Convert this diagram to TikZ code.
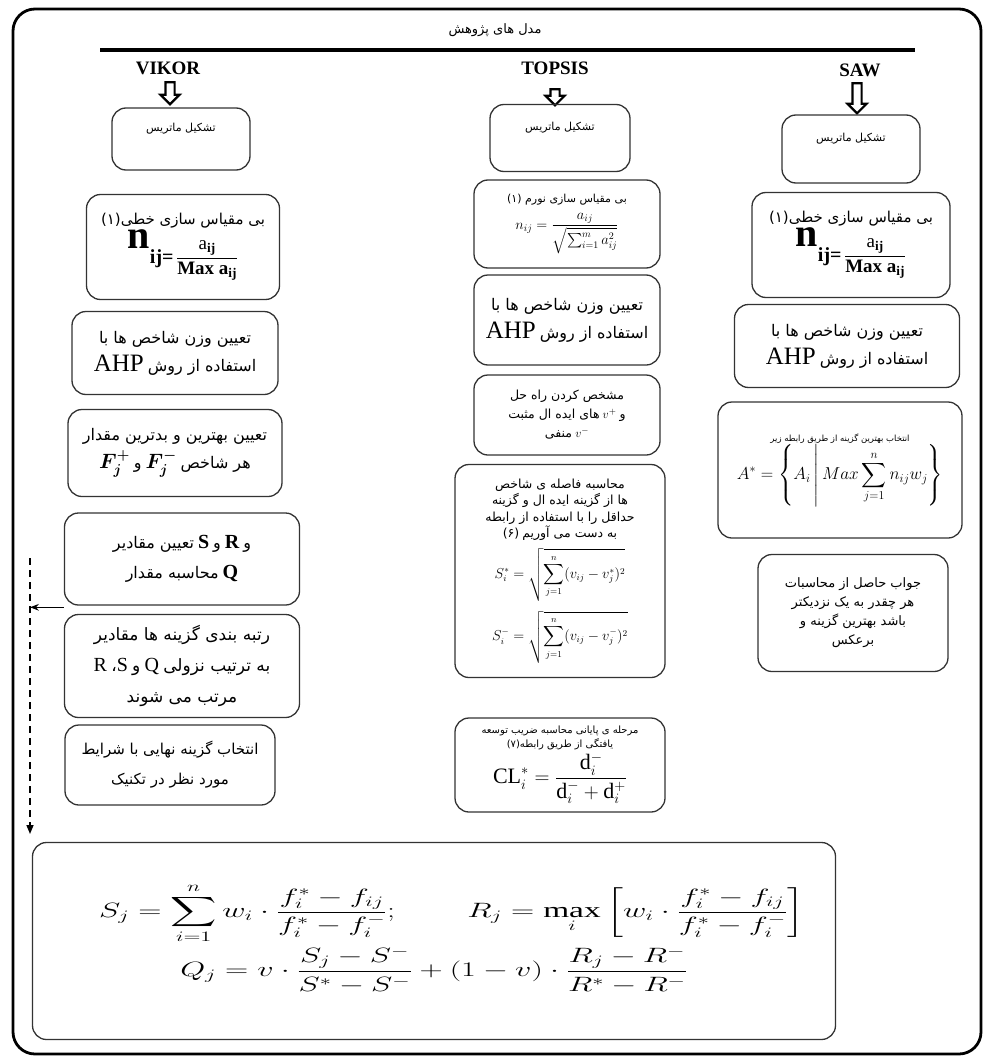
\documentclass[tikz,border=0pt]{standalone}
\usepackage{amsmath}
\usepackage{graphicx}
\usepackage{fontspec}
\setmainfont{Liberation Serif}
\newfontfamily\farsi[Script=Arabic]{DejaVu Sans}
\TeXXeTstate=1
\newcommand{\fa}[1]{{\farsi\beginR #1\endR}}
\newcommand{\Ahp}{{\fontsize{25}{25}\selectfont AHP}}
\newcommand{\Lat}[1]{{\fontsize{20}{20}\selectfont #1}}
\newcommand{\nlin}{{\fontsize{40}{34}\selectfont\bfseries n}\raisebox{-15pt}{\fontsize{20}{20}\selectfont\bfseries ij=}\,\raisebox{-14pt}{\fontsize{19}{19}\selectfont$\dfrac{\mathrm{a}_{\mathbf{ij}}}{\textbf{Max a}_{\mathbf{ij}}}$}}
\usepackage{tikz}
\usetikzlibrary{
	arrows.meta,
	positioning,
	calc,
	shapes.arrows
}

\tikzset{
	stage/.style={draw=black!80,line width=1.3pt,rounded corners=14pt,align=center,inner sep=2pt,font=\fontsize{16}{25}\selectfont},
	method/.style={font=\fontsize{19}{19}\selectfont\bfseries},
	hollow/.style={single arrow,draw,fill=white,line width=2.2pt,shape border rotate=270,inner sep=3.5pt,single arrow head extend=5pt},
	matrixbox/.style={stage,font=\fontsize{11}{14}\selectfont,text depth=24pt}
}

\begin{document}
\begin{tikzpicture}[>=Stealth,x=1pt,y=-1pt]
		\useasboundingbox (0,0) rectangle (988,1062);
		
		% frame and title
		\draw[line width=2.8pt,rounded corners=22pt] (13,9) rectangle (981,1054);
		\node[font=\fontsize{13}{13}\selectfont] (title) at (495,30) {\fa{مدل های پژوهش}};
		\coordinate (rl) at (100,50);
		\coordinate (rr) at (915,50);
		\draw[line width=3.5pt] (rl)--(rr);
		
		% methods
		\node[method] (vikor) at (168,68) {VIKOR};
		\node[method] (topsis) at (555,68) {TOPSIS};
		\node[method] (saw) at (860,70) {SAW};
		\node[hollow,minimum height=22pt] (va) at (170,91) {};
		\node[hollow,minimum height=16pt] (ta) at (555,95) {};
		\node[hollow,minimum height=30pt] (sa) at (857,96) {};
		
		% VIKOR
		\node[matrixbox,minimum width=138pt,minimum height=62pt] (v1) at (181,139) {\fa{تشکیل ماتریس}};
		\node[stage,minimum width=193pt,minimum height=105pt,font=\fontsize{15}{20}\selectfont] (v2) at (183,247) {\fa{بی مقیاس سازی خطی(۱)}\\ \nlin};
		\node[stage,minimum width=206pt,minimum height=83pt,font=\fontsize{16}{28}\selectfont] (v3) at (175,353) {\fa{تعیین وزن شاخص ها با}\\ \Ahp\ \fa{استفاده از روش}};
		\node[stage,minimum width=214pt,minimum height=87pt,font=\fontsize{16}{28}\selectfont] (v4) at (175,453) {\fa{تعیین بهترین و بدترین مقدار}\\ \Lat{$\boldsymbol{F_j^{+}}$} \fa{و} \Lat{$\boldsymbol{F_j^{-}}$} \fa{هر شاخص}};
		\node[stage,minimum width=235pt,minimum height=92pt,font=\fontsize{16}{30}\selectfont] (v5) at (182,559) {\fa{تعیین مقادیر} \Lat{\bfseries S} \fa{و} \Lat{\bfseries R} \fa{و}\\ \fa{محاسبه مقدار} \Lat{\bfseries Q}};
		\node[stage,minimum width=235pt,minimum height=103pt,font=\fontsize{17}{31}\selectfont] (v6) at (182,666) {\fa{رتبه بندی گزینه ها مقادیر}\\ \Lat{R} \fa{،}\Lat{S} \fa{و} \Lat{Q} \fa{به ترتیب نزولی}\\ \fa{مرتب می شوند}};
		\node[stage,minimum width=210pt,minimum height=80pt,font=\fontsize{15}{30}\selectfont] (v7) at (170,765) {\fa{انتخاب گزینه نهایی با شرایط}\\ \fa{مورد نظر در تکنیک}};
		
		% TOPSIS
		\node[matrixbox,minimum width=140pt,minimum height=67pt] (t1) at (560,138) {\fa{تشکیل ماتریس}};
		\node[stage,minimum width=186pt,minimum height=88pt,font=\fontsize{11}{14}\selectfont] (t2) at (567,224) {\fa{بی مقیاس سازی نورم (۱)}\\[7pt] {\fontsize{14}{14}\selectfont$n_{ij}=\dfrac{a_{ij}}{\sqrt{\sum_{i=1}^{m}a_{ij}^{2}}}$}};
		\node[stage,minimum width=186pt,minimum height=90pt,font=\fontsize{16}{28}\selectfont] (t3) at (567,320) {\fa{تعیین وزن شاخص ها با}\\ \Ahp\ \fa{استفاده از روش}};
		\node[stage,minimum width=186pt,minimum height=80pt,font=\fontsize{12.5}{19}\selectfont] (t4) at (567,415) {\fa{مشخص کردن راه حل}\\ \fa{های ایده ال مثبت} $v^{+}$ \fa{و}\\ \fa{منفی} $v^{-}$};
		\node[stage,minimum width=210pt,minimum height=213pt,font=\fontsize{12.5}{16.5}\selectfont] (t5) at (560,571) {\fa{محاسبه فاصله ی شاخص}\\ \fa{ها از گزینه ایده ال و گزینه}\\ \fa{حداقل را با استفاده از رابطه}\\ \fa{(۶)} \fa{به دست می آوریم}\\[7pt]
			{\fontsize{13.5}{14}\selectfont$\displaystyle S_i^{*}=\sqrt{\sum_{j=1}^{n}(v_{ij}-v_j^{*})^2}$}\\[9pt]
			{\fontsize{13.5}{14}\selectfont$\displaystyle S_i^{-}=\sqrt{\sum_{j=1}^{n}(v_{ij}-v_j^{-})^2}$}};
		\node[stage,minimum width=210pt,minimum height=94pt,font=\fontsize{10}{14}\selectfont] (t6) at (560,765) {\fa{مرحله ی پایانی محاسبه ضریب توسعه}\\ \fa{یافتگی از طریق رابطه(۷)}\\[2pt] {\fontsize{22}{24}\selectfont$\mathrm{CL}_i^{*}=\dfrac{\mathrm{d}_i^{-}}{\mathrm{d}_i^{-}+\mathrm{d}_i^{+}}$}};
		
		% SAW
		\node[matrixbox,minimum width=138pt,minimum height=68pt] (s1) at (851,149) {\fa{تشکیل ماتریس}};
		\node[stage,minimum width=198pt,minimum height=105pt,font=\fontsize{15}{20}\selectfont] (s2) at (851,245) {\fa{بی مقیاس سازی خطی(۱)}\\ \nlin};
		\node[stage,minimum width=225pt,minimum height=83pt,font=\fontsize{16}{28}\selectfont] (s3) at (847,346) {\fa{تعیین وزن شاخص ها با}\\ \Ahp\ \fa{استفاده از روش}};
		\node[stage,minimum width=244pt,minimum height=136pt,font=\fontsize{8.5}{12}\selectfont] (s4) at (840,470) {\fa{انتخاب بهترین گزینه از طریق رابطه زیر}\\ {\fontsize{17.5}{20}\selectfont$\displaystyle A^{*}=\left\{A_i\,\middle|\,Max\sum_{j=1}^{n}n_{ij}w_j\right\}$}};
		\node[stage,minimum width=190pt,minimum height=117pt,font=\fontsize{13}{19}\selectfont] (s5) at (853,613) {\fa{جواب حاصل از محاسبات}\\ \fa{هر چقدر به یک نزدیکتر}\\ \fa{باشد بهترین گزینه و}\\ \fa{برعکس}};
		
		% VIKOR formulas
		\node[stage,minimum width=803pt,minimum height=197pt,text depth=22pt,font=\fontsize{21.5}{28}\selectfont] (vf) at (434,941) {\hspace*{36pt}\scalebox{1.55}[1]{$\displaystyle S_j=\sum_{i=1}^{n}w_i\cdot\frac{f_i^{*}-f_{ij}}{f_i^{*}-f_i^{-}};\qquad R_j=\max_i\left[w_i\cdot\frac{f_i^{*}-f_{ij}}{f_i^{*}-f_i^{-}}\right]$}\\[2pt] \scalebox{1.55}[1]{$\displaystyle Q_j=v\cdot\frac{S_j-S^{-}}{S^{*}-S^{-}}+(1-v)\cdot\frac{R_j-R^{-}}{R^{*}-R^{-}}$}};
		
		% dashed link
		\coordinate (dtop) at (30,558);
		\coordinate (dbot) at (30,834);
		\draw[dashed,line width=1.4pt,dash pattern=on 7pt off 5pt,-{Triangle[length=9pt,width=7pt]}] (dtop)--(dbot);
		\path ($(v5.south west)!0.2!(v6.north west)$) coordinate (gap);
		\coordinate (jn) at (dtop |- gap);
		\draw[->,line width=1.3pt] (gap)--(jn);
		
	\end{tikzpicture}
\end{document}
